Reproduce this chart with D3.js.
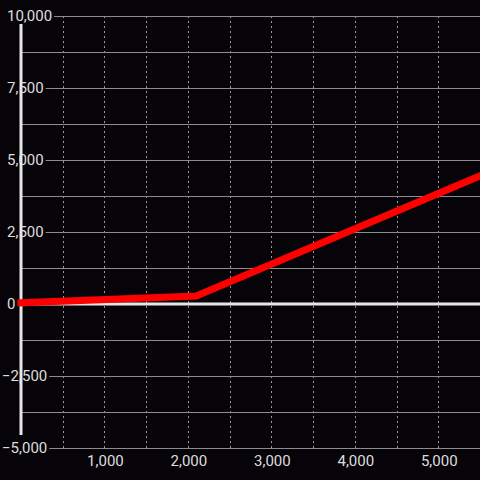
<!DOCTYPE html>
<html>
<head>
<meta charset="utf-8">
<script src="https://cdn.jsdelivr.net/npm/d3@7"></script>
<style>
  html, body { margin: 0; padding: 0; background: #060409; }
  svg { display: block; }
</style>
</head>
<body>
<div id="chart"></div>
<script>
// data
const seriesX = [0, 2100, 5500];
const seriesY = [40, 280, 4450];

const yMajorTicks = [-5000, -2500, 0, 2500, 5000, 7500, 10000];
const yMinorTicks = [-3750, -1250, 1250, 3750, 6250, 8750];
const xLabelTicks = [1000, 2000, 3000, 4000, 5000];
const xGridTicks = [500, 1000, 1500, 2000, 2500, 3000, 3500, 4000, 4500, 5000];

const width = 480, height = 480;
const fmt = d3.format(",");

const svg = d3
  .select("#chart")
  .append("svg")
  .attr("width", width)
  .attr("height", height)
  .style("font-family", "Roboto, sans-serif");

svg.append("rect").attr("width", width).attr("height", height).attr("fill", "#060409");

const x = d3.scaleLinear().domain([0, 5500]).range([21, 480]);
const y = d3.scaleLinear().domain([-5000, 10000]).range([448, 16]);

// dashed vertical grid
svg
  .selectAll(".vgrid")
  .data(xGridTicks)
  .enter()
  .append("line")
  .attr("x1", (d) => Math.round(x(d)) + 0.5)
  .attr("x2", (d) => Math.round(x(d)) + 0.5)
  .attr("y1", y(10000))
  .attr("y2", y(-5000))
  .attr("stroke", "#9a9a9a")
  .attr("stroke-width", 1)
  .attr("stroke-dasharray", "2,3");

// minor horizontal grid
svg
  .selectAll(".hminor")
  .data(yMinorTicks)
  .enter()
  .append("line")
  .attr("x1", 22)
  .attr("x2", width)
  .attr("y1", (d) => Math.round(y(d)) + 0.5)
  .attr("y2", (d) => Math.round(y(d)) + 0.5)
  .attr("stroke", "#8c8c8c")
  .attr("stroke-width", 1);

// y labels + major grid starting after each label
const yLabels = svg
  .selectAll(".ylabel")
  .data(yMajorTicks)
  .enter()
  .append("text")
  .attr("x", (d) => (d < 0 ? 2 : 7))
  .attr("y", (d) => y(d))
  .attr("dy", "0.35em")
  .attr("fill", "#dedede")
  .style("font-size", "15px")
  .text((d) => fmt(d));

yLabels.each(function (d) {
  if (d === 0) return;
  const end = +this.getAttribute("x") + this.getComputedTextLength();
  svg
    .append("line")
    .attr("x1", end + 2)
    .attr("x2", width)
    .attr("y1", Math.round(y(d)) + 0.5)
    .attr("y2", Math.round(y(d)) + 0.5)
    .attr("stroke", "#8c8c8c")
    .attr("stroke-width", 1);
});

// y axis line
svg
  .append("line")
  .attr("x1", x(0))
  .attr("x2", x(0))
  .attr("y1", y(10000) + 8)
  .attr("y2", y(-5000) - 13)
  .attr("stroke", "#e6e6e6")
  .attr("stroke-width", 3);

// zero line
svg
  .append("line")
  .attr("x1", x(0))
  .attr("x2", width)
  .attr("y1", y(0))
  .attr("y2", y(0))
  .attr("stroke", "#e6e6e6")
  .attr("stroke-width", 3);

// x labels
svg
  .selectAll(".xlabel")
  .data(xLabelTicks)
  .enter()
  .append("text")
  .attr("x", (d) => x(d) + 1)
  .attr("y", 466)
  .attr("text-anchor", "middle")
  .attr("fill", "#dedede")
  .style("font-size", "15px")
  .text((d) => fmt(d));

// the series
svg
  .append("path")
  .datum(seriesX)
  .attr("fill", "none")
  .attr("stroke", "#ff0000")
  .attr("stroke-width", 7)
  .attr("stroke-linecap", "square")
  .attr("stroke-linejoin", "miter")
  .attr(
    "d",
    d3
      .line()
      .x((d) => x(d))
      .y((d, i) => y(seriesY[i]))
  );
</script>
</body>
</html>
